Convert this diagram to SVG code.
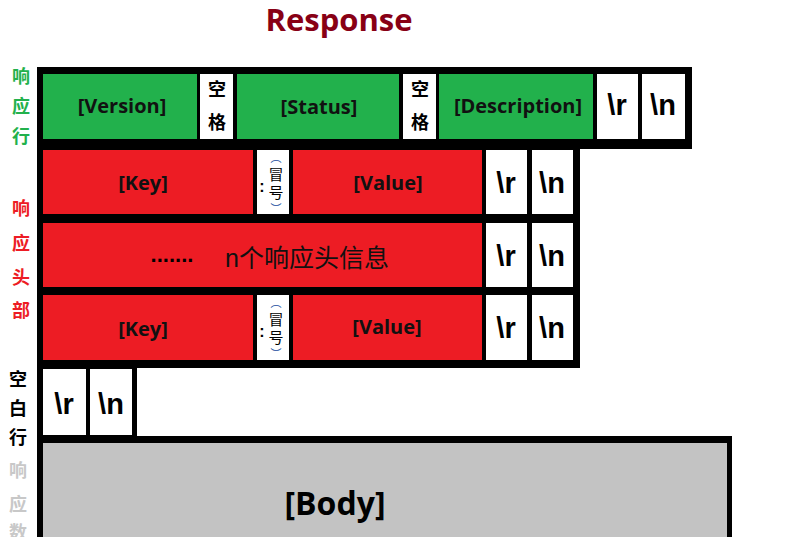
<svg xmlns="http://www.w3.org/2000/svg" width="804" height="537" viewBox="0 0 804 537">
<style>
  .blk{fill:#000000}
  .green{fill:#22b14c}
  .red{fill:#ed1c24}
  .white{fill:#ffffff}
  .grey{fill:#c3c3c3}
  .lbl{font-family:"Open Sans","Liberation Sans",sans-serif;font-weight:700;font-size:20px;fill:#111;text-anchor:middle;dominant-baseline:central}
  .esc{font-family:"Liberation Sans",Arial,sans-serif;font-weight:700;font-size:29px;fill:#000;text-anchor:middle;dominant-baseline:central}
  .cjk{font-family:"Noto Sans CJK SC",sans-serif;font-weight:700;font-size:18px;text-anchor:middle;dominant-baseline:central}
  .side{font-family:"Noto Sans CJK SC",sans-serif;font-weight:700;font-size:18px;text-anchor:middle;dominant-baseline:central}
  .colon{font-family:"Liberation Sans",sans-serif;font-weight:700;font-size:16px;text-anchor:middle;dominant-baseline:central}
  .v{font-family:"Noto Sans CJK SC",sans-serif;font-size:15px;text-anchor:middle;dominant-baseline:central}
  .p{font-size:11px;fill:#1a4fa0}
</style>
<rect width="804" height="537" fill="#ffffff"/>
<text x="339" y="31" font-family="Open Sans, Liberation Sans, sans-serif" font-weight="700" font-size="31" fill="#880015" text-anchor="middle">Response</text>

<g id="side-labels">
  <text class="side" x="21" y="75" fill="#22b14c">响</text>
  <text class="side" x="21" y="105" fill="#22b14c">应</text>
  <text class="side" x="21" y="135" fill="#22b14c">行</text>
  <text class="side" x="21" y="207" fill="#ed1c24">响</text>
  <text class="side" x="21" y="242" fill="#ed1c24">应</text>
  <text class="side" x="21" y="276" fill="#ed1c24">头</text>
  <text class="side" x="21" y="309" fill="#ed1c24">部</text>
  <text class="side" x="18" y="378" fill="#000000">空</text>
  <text class="side" x="18" y="407" fill="#000000">白</text>
  <text class="side" x="18" y="436" fill="#000000">行</text>
  <text class="side" x="18" y="469" fill="#c8c8c8">响</text>
  <text class="side" x="18" y="503" fill="#c8c8c8">应</text>
  <text class="side" x="18" y="531" fill="#c8c8c8">数</text>
</g>

<g id="frame">
  <rect class="blk" x="37" y="67" width="655" height="82"/>
  <rect class="blk" x="37" y="147" width="543" height="221"/>
  <rect class="blk" x="37" y="366" width="100" height="76"/>
  <rect class="blk" x="37" y="436" width="695" height="101"/>
</g>

<g id="status-line">
  <g id="version"><rect class="green" x="43" y="74" width="154" height="65"/><text class="lbl" x="122" y="105">[Version]</text></g>
  <g id="space1"><rect class="white" x="200" y="74" width="33" height="65"/><text class="cjk" x="217" y="88" fill="#000">空</text><text class="cjk" x="217" y="121" fill="#000">格</text></g>
  <g id="status"><rect class="green" x="237" y="74" width="162" height="65"/><text class="lbl" x="319" y="106">[Status]</text></g>
  <g id="space2"><rect class="white" x="403" y="74" width="33" height="65"/><text class="cjk" x="420" y="88" fill="#000">空</text><text class="cjk" x="420" y="121" fill="#000">格</text></g>
  <g id="description"><rect class="green" x="439" y="74" width="154" height="65"/><text class="lbl" x="518" y="105">[Description]</text></g>
  <g id="sl-r"><rect class="white" x="597" y="74" width="41" height="65"/><text class="esc" x="617" y="105">\r</text></g>
  <g id="sl-n"><rect class="white" x="642" y="74" width="43" height="65"/><text class="esc" x="663" y="105">\n</text></g>
</g>

<g id="header-1">
  <rect class="red" x="43" y="150" width="210" height="64"/><text class="lbl" x="143" y="182">[Key]</text>
  <rect class="white" x="257" y="150" width="32" height="64"/>
  <text class="colon" x="262" y="186">:</text>
  <text class="v"><tspan class="p" x="276" y="157">︵</tspan><tspan x="276" y="173">冒</tspan><tspan x="276" y="191">号</tspan><tspan class="p" x="276" y="208">︶</tspan></text>
  <rect class="red" x="293" y="150" width="189" height="64"/><text class="lbl" x="388" y="182">[Value]</text>
  <rect class="white" x="486" y="150" width="41" height="64"/><text class="esc" x="506" y="183">\r</text>
  <rect class="white" x="532" y="150" width="41" height="64"/><text class="esc" x="552" y="183">\n</text>
</g>

<g id="header-n">
  <rect class="red" x="43" y="223" width="439" height="64"/>
  <text x="172" y="262" font-family="Liberation Sans, sans-serif" font-weight="700" font-size="22" text-anchor="middle">.......</text>
  <text x="225" y="258" font-family="Liberation Sans, Noto Sans CJK SC, sans-serif" font-size="25" fill="#111" dominant-baseline="central">n个响应头信息</text>
  <rect class="white" x="486" y="223" width="41" height="64"/><text class="esc" x="506" y="256">\r</text>
  <rect class="white" x="532" y="223" width="41" height="64"/><text class="esc" x="552" y="256">\n</text>
</g>

<g id="header-2">
  <rect class="red" x="43" y="295" width="210" height="65"/><text class="lbl" x="143" y="328">[Key]</text>
  <rect class="white" x="257" y="295" width="32" height="65"/>
  <text class="colon" x="262" y="331">:</text>
  <text class="v"><tspan class="p" x="276" y="302">︵</tspan><tspan x="276" y="318">冒</tspan><tspan x="276" y="336">号</tspan><tspan class="p" x="276" y="353">︶</tspan></text>
  <rect class="red" x="293" y="295" width="189" height="65"/><text class="lbl" x="387" y="326">[Value]</text>
  <rect class="white" x="486" y="295" width="41" height="65"/><text class="esc" x="506" y="328">\r</text>
  <rect class="white" x="532" y="295" width="41" height="65"/><text class="esc" x="552" y="328">\n</text>
</g>

<g id="blank-line">
  <rect class="white" x="43" y="369" width="43" height="66"/><text class="esc" x="64" y="404">\r</text>
  <rect class="white" x="90" y="369" width="42" height="66"/><text class="esc" x="111" y="404">\n</text>
</g>

<g id="body">
  <rect class="grey" x="43" y="443" width="684" height="94"/>
  <text x="335" y="502" font-family="Open Sans, Liberation Sans, sans-serif" font-weight="700" font-size="32" fill="#000" text-anchor="middle" dominant-baseline="central">[Body]</text>
</g>
<g id="connectors"></g>
</svg>
